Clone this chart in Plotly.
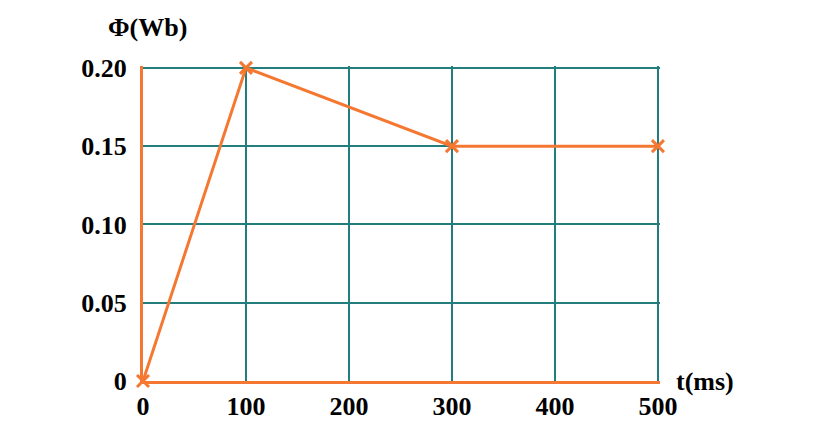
import plotly.graph_objects as go

# flux vs time
t_ms = [0, 100, 300, 500]
phi_wb = [0, 0.20, 0.15, 0.15]

x_ticks = [0, 100, 200, 300, 400, 500]
x_labels = ["0", "100", "200", "300", "400", "500"]
y_ticks = [0, 0.05, 0.10, 0.15, 0.20]
y_labels = ["0", "0.05", "0.10", "0.15", "0.20"]

orange = "rgb(245,120,50)"
teal = "rgb(35,125,125)"
font = dict(family="Liberation Serif", size=26, color="black", weight="bold")

fig = go.Figure()
fig.add_trace(go.Scatter(
    x=t_ms, y=phi_wb,
    mode="lines+markers",
    line=dict(color=orange, width=3),
    marker=dict(symbol="x-thin", size=12, line=dict(color=orange, width=3)),
    cliponaxis=False,
))

# ranges a hair past the last tick so the top/right grid lines are kept
fig.update_layout(
    width=831, height=431,
    margin=dict(l=135, r=179, t=58, b=58),
    plot_bgcolor="white", paper_bgcolor="white",
    showlegend=False,
    font=font,
    xaxis=dict(
        range=[0, 502], tickvals=x_ticks, ticktext=x_labels,
        showgrid=True, gridcolor=teal, gridwidth=2,
        showline=True, linecolor=orange, linewidth=3,
        zeroline=False, ticks="", tickfont=font,
        ticklabelstandoff=0,
    ),
    yaxis=dict(
        range=[0, 0.2012], tickvals=y_ticks, ticktext=y_labels,
        showgrid=True, gridcolor=teal, gridwidth=2,
        showline=True, linecolor=orange, linewidth=3,
        zeroline=False, ticks="", tickfont=font,
        ticklabelstandoff=8,
    ),
    annotations=[
        dict(text="Φ(Wb)", xref="paper", yref="paper", x=0.0, y=1.0,
             xanchor="center", yanchor="middle", xshift=4, yshift=39,
             showarrow=False, font=font),
        dict(text="t(ms)", xref="paper", yref="paper", x=1.0, y=0.0,
             xanchor="left", yanchor="middle", xshift=14, showarrow=False,
             font=font),
    ],
)

fig.write_html("out.html")
